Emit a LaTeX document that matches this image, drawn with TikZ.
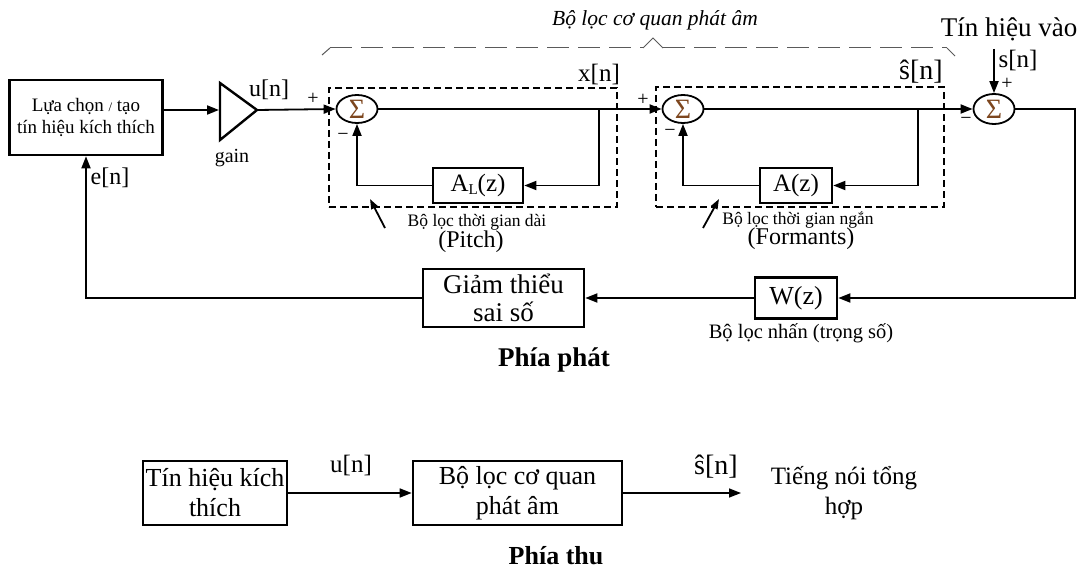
\documentclass[tikz,border=0pt]{standalone}
\usepackage{fontspec}
\setmainfont{Liberation Serif}
\usetikzlibrary{arrows.meta,shapes.geometric}
\newcommand{\fsz}[2]{\fontsize{#1}{#2}\selectfont}
\definecolor{sigc}{RGB}{125,70,30}
\definecolor{bracec}{RGB}{90,90,90}
\begin{document}
\begin{tikzpicture}[x=1pt,y=-1pt,
  box/.style={draw, line width=2.6pt, inner sep=0pt, align=center},
  conn/.style={line width=1.8pt, -{Triangle[length=12pt,width=9pt]}},
  dbox/.style={draw, dash pattern=on 7pt off 4pt, line width=2.2pt, inner sep=0pt},
  sumnode/.style={draw, ellipse, line width=1.8pt, minimum width=41pt, minimum height=28pt, inner sep=0pt, font=\fsz{28}{28}, text=sigc},
  lbl/.style={inner sep=0pt, align=center},
  sign/.style={inner sep=0pt, font=\fsz{20}{20}},
  ptr/.style={line width=1.8pt, -{Triangle[length=10pt,width=7pt]}}
]
\useasboundingbox (0,0) rectangle (1079,572);

% ---------------- Phía phát ----------------
\node[box, minimum width=153pt, minimum height=75pt, font=\fsz{19}{22}] (sel) at (86,117.5)
  {Lựa chọn {\fsz{13}{13}/} tạo\\tín hiệu kích thích};

% gain triangle
\draw[line width=2.4pt, line join=miter] (220,83) -- (257,110) -- (220,140) -- cycle;
\coordinate (triW) at (219,110);
\coordinate (triE) at (257,110);
\node[lbl, font=\fsz{24}{24}] (un) at (269,90) {u[n]};
\node[lbl, font=\fsz{20}{20}] (gain) at (232,158) {gain};

% dashed groups
\node[dbox, minimum width=288pt, minimum height=119pt] (d1) at (473,147.5) {};
\node[dbox, minimum width=288pt, minimum height=120pt] (d2) at (800,147) {};

% summers
\node[sumnode] (s1) at (357,109) {Σ};
\node[sumnode] (s2) at (683,109) {Σ};
\node[sumnode, minimum height=30pt] (s3) at (994,109) {Σ};

% filter boxes
\node[box, minimum width=90pt, minimum height=35pt, font=\fsz{25}{25}] (AL) at (478,185.5)
  {A{\fsz{15}{15}\raisebox{-3pt}{L}}(z)};
\node[box, minimum width=72pt, minimum height=35pt, font=\fsz{25}{25}] (A) at (796,185.5) {A(z)};
\node[box, minimum width=82pt, minimum height=41pt, font=\fsz{26}{26}] (W) at (796,298) {W(z)};
\node[box, minimum width=161pt, minimum height=58pt, font=\fsz{27}{28}] (G) at (503.5,298)
  {Giảm thiểu\\sai số};

% connectors
\draw[conn] (triW -| sel.east) -- (triW);
\draw[conn] (triE) -- (s1.west);
\draw[conn] (s1.east) -- (s2.west);
\draw[conn] (s2.east) -- (s3.west);
\coordinate (b1) at (599,109);
\coordinate (b2) at (918,109);
\draw[conn] (b1) |- (AL.east);
\draw[conn] (AL.west) -| (s1.south);
\draw[conn] (b2) |- (A.east);
\draw[conn] (A.west) -| (s2.south);
\coordinate (sin) at (994,49);
\draw[conn] (sin) -- (s3.north);
\coordinate (rc) at (1075,109);
\draw[conn] (s3.east) -- (rc) |- (W.east);
\draw[conn] (W.west) -- (G.east);
\draw[conn] (G.west) -| (sel.south);

% signal labels
\node[lbl, font=\fsz{25}{25}] (xn) at (599,75) {x[n]};
\node[lbl, font=\fsz{28}{28}] (shn) at (921,72) {ŝ[n]};
\node[lbl, font=\fsz{25}{25}] (sn) at (1018,61) {s[n]};
\node[lbl, font=\fsz{27}{27}] (tin) at (1009,29) {Tín hiệu vào};
\node[lbl, font=\fsz{24}{24}] (en) at (110,178) {e[n]};

% signs
\node[sign] (p1) at (313,99) {+};
\node[sign] (m1) at (343,137) {−};
\node[sign] (p2) at (643,100) {+};
\node[sign] (m2) at (670,133) {−};
\node[sign] (m3) at (966,121) {−};
\node[sign] (p3) at (1007,84) {+};

% filter captions
\node[lbl, font=\fsz{17.5}{17.5}] (c1) at (477,222) {Bộ lọc thời gian dài};
\node[lbl, font=\fsz{24}{24}] (c1b) at (471,242) {(Pitch)};
\node[lbl, font=\fsz{17.5}{17.5}] (c2) at (798,220) {Bộ lọc thời gian ngắn};
\node[lbl, font=\fsz{24}{24}] (c2b) at (801,239) {(Formants)};
\coordinate (pa1) at (385,228);
\coordinate (pa1e) at (370,199);
\coordinate (pa2) at (703,228);
\coordinate (pa2e) at (719,199);
\draw[ptr] (pa1) -- (pa1e);
\draw[ptr] (pa2) -- (pa2e);

\node[lbl, font=\fsz{20.5}{20.5}] (wc) at (801,333) {Bộ lọc nhấn (trọng số)};
\node[lbl, font=\fsz{27}{27}\bfseries] (pp) at (554,360) {Phía phát};

% top brace
\node[lbl, font=\fsz{21.5}{21.5}\itshape] (top) at (655,20) {Bộ lọc cơ quan phát âm};
\draw[bracec, line width=1pt] (322,55) -- (330,48);
\draw[bracec, line width=1pt, dash pattern=on 22pt off 9pt] (330,48) -- (643,48);
\draw[bracec, line width=1pt] (643,48) -- (653,38) -- (663,48);
\draw[bracec, line width=1pt, dash pattern=on 22pt off 9pt] (663,48) -- (947,48);
\draw[bracec, line width=1pt] (947,48) -- (955,56);

% ---------------- Phía thu ----------------
\node[box, minimum width=144pt, minimum height=64pt, font=\fsz{26}{30}] (bA) at (215,493)
  {Tín hiệu kích\\thích};
\node[box, minimum width=209pt, minimum height=64pt, font=\fsz{26}{30}] (bB) at (517.5,493)
  {Bộ lọc cơ quan\\phát âm};
\draw[conn, line width=1.6pt] (bA.east) -- (bB.west);
\coordinate (out) at (741,493);
\draw[conn, line width=1.6pt] (bB.east) -- (out);
\node[lbl, font=\fsz{25}{25}] (un2) at (351,465) {u[n]};
\node[lbl, font=\fsz{28}{28}] (sh2) at (716,467) {ŝ[n]};
\node[lbl, font=\fsz{25}{30}] (tn) at (844,493) {Tiếng nói tổng\\hợp};
\node[lbl, font=\fsz{26}{26}\bfseries] (pt) at (556,556) {Phía thu};

\end{tikzpicture}
\end{document}
